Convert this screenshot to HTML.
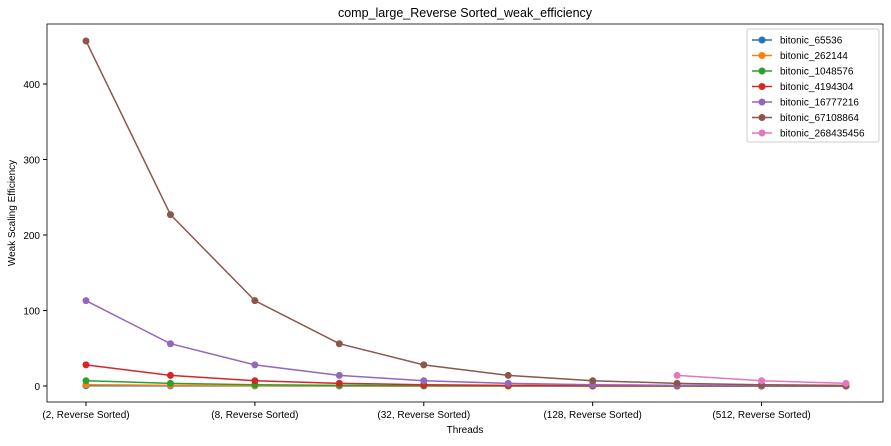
<!DOCTYPE html>
<html><head><meta charset="utf-8"><style>
body{margin:0;background:#fff;font-family:"Liberation Sans",sans-serif}
text{font-family:"Liberation Sans",sans-serif}
</style></head><body>
<svg id="c" width="891" height="441"></svg>
<script>
const categories=["(2, Reverse Sorted)","(4, Reverse Sorted)","(8, Reverse Sorted)","(16, Reverse Sorted)","(32, Reverse Sorted)","(64, Reverse Sorted)","(128, Reverse Sorted)","(256, Reverse Sorted)","(512, Reverse Sorted)","(1024, Reverse Sorted)"];
const names=["bitonic_65536","bitonic_262144","bitonic_1048576","bitonic_4194304","bitonic_16777216","bitonic_67108864","bitonic_268435456"];
const colors=["#1f77b4","#ff7f0e","#2ca02c","#d62728","#9467bd","#8c564b","#e377c2"];
const s0=[0.4,0.2,0.1,0.06,0.03,0.02,0.01,0.01,0.01,0.01];
const s1=[1.7,0.9,0.45,0.25,0.12,0.06,0.04,0.03,0.02,0.02];
const s2=[7,3.5,1.7,0.9,0.45,0.25,0.12,0.06,0.04,0.03];
const s3=[28,14,7,3.5,1.7,0.9,0.45,0.25,0.12,0.06];
const s4=[113,56,28,14,7,3.5,1.7,0.9,0.45,0.25];
const s5=[457,227,113,56,28,14,7,3.5,1.7,0.9];
const s6=[null,null,null,null,null,null,null,14,7,3.5];
const series=[s0,s1,s2,s3,s4,s5,s6];
const yTicks=[0,100,200,300,400];
const xTickIdx=[0,2,4,6,8];
const NS="http://www.w3.org/2000/svg",svg=document.getElementById('c');
const L=47,R=883,T=24,B=402;
const x=i=>86+i*(846-86)/(categories.length-1);
const y=v=>386-v*(386-84)/400;
function mk(t,a,p){const e=document.createElementNS(NS,t);for(const k in a)e.setAttribute(k,a[k]);(p||svg).appendChild(e);return e;}
const title=mk('text',{x:465,y:17,'text-anchor':'middle','font-size':12.5});title.textContent="comp_large_Reverse Sorted_weak_efficiency";


const frame=mk('rect',{x:L,y:T,width:R-L,height:B-T,fill:'none',stroke:'#000','stroke-width':0.8});


yTicks.forEach(v=>{mk('line',{x1:L-4,x2:L,y1:y(v),y2:y(v),stroke:'#000'});const t=mk('text',{x:L-7,y:y(v)+4,'text-anchor':'end','font-size':10});t.textContent=v;

});
xTickIdx.forEach(i=>{mk('line',{x1:x(i),x2:x(i),y1:B,y2:B+4,stroke:'#000'});const t=mk('text',{x:x(i),y:B+16,'text-anchor':'middle','font-size':10});t.textContent=categories[i];

});
const xt=mk('text',{x:465,y:433,'text-anchor':'middle','font-size':10});xt.textContent="Threads";


const yt=mk('text',{x:15,y:213,'text-anchor':'middle','font-size':10,transform:'rotate(-90 15 213)'});yt.textContent="Weak Scaling Efficiency";


series.forEach((s,k)=>{const g=mk('g',{});


const pts=[];s.forEach((v,i)=>{if(v!=null)pts.push([x(i),y(v)]);});
mk('polyline',{points:pts.map(p=>p.join(',')).join(' '),fill:'none',stroke:colors[k],'stroke-width':1.5},g);
pts.forEach(p=>{const c=mk('circle',{cx:p[0],cy:p[1],r:3.5,fill:colors[k]},g);

});});
const lg=mk('g',{});


mk('rect',{x:747,y:29,width:132,height:113,fill:'#fff',stroke:'#ccc',rx:2},lg);
names.forEach((n,k)=>{const yy=40+k*15.5;const e=mk('g',{},lg);


mk('line',{x1:752,x2:772,y1:yy,y2:yy,stroke:colors[k],'stroke-width':1.5},e);
mk('circle',{cx:762,cy:yy,r:3.5,fill:colors[k]},e);
const t=mk('text',{x:780,y:yy+3.5,'font-size':10},e);t.textContent=n;});
</script>
</body></html>
